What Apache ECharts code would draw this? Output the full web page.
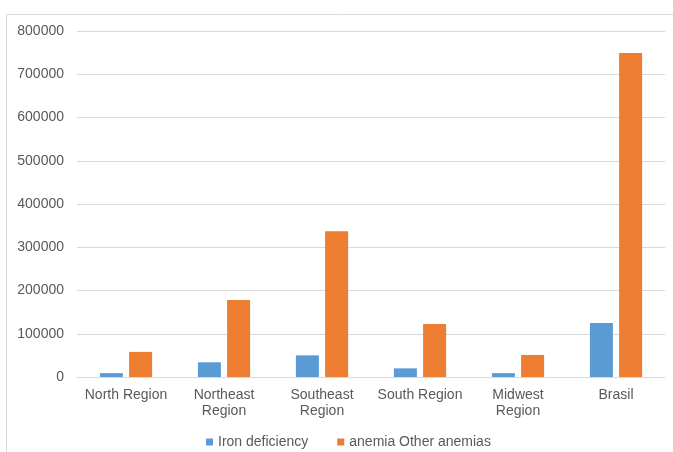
<!DOCTYPE html>
<html>
<head>
<meta charset="utf-8">
<script src="https://cdn.jsdelivr.net/npm/echarts@6/dist/echarts.min.js"></script>
<style>
  html, body { margin: 0; padding: 0; background: #fff; }
  #chart { width: 673px; height: 452px; }
</style>
</head>
<body>
<div id="chart"></div>
<script>
// Regions of Brazil and the national total
const categories = ['North Region', 'Northeast\nRegion', 'Southeast\nRegion', 'South Region', 'Midwest\nRegion', 'Brasil'];
const ironDeficiency = [9000, 34000, 50000, 20000, 9000, 125000];
const otherAnemias = [58000, 178000, 337000, 122500, 51000, 749000];
const seriesNames = ['Iron deficiency', 'anemia Other anemias'];

const chart = echarts.init(document.getElementById('chart'));
const textColor = '#595959';
const font = 'Liberation Sans, Arial, sans-serif';
const fontSize = 14;

chart.setOption({
  animation: false,
  graphic: [{
    type: 'rect',
    shape: { x: 6.5, y: 14.5, width: 700, height: 500 },
    style: { fill: 'none', stroke: '#d9d9d9', lineWidth: 1 },
    silent: true
  }],
  grid: { left: 77, right: 8, top: 31, bottom: 75, containLabel: false },
  legend: {
    left: 201,
    top: 430,
    itemWidth: 7,
    itemHeight: 7,
    itemGap: 29,
    icon: 'rect',
    textStyle: { color: textColor, fontSize: fontSize, fontFamily: font }
  },
  xAxis: {
    type: 'category',
    data: categories,
    axisTick: { show: false },
    axisLine: { lineStyle: { color: '#d9d9d9' } },
    axisLabel: { color: textColor, fontSize: fontSize, fontFamily: font, margin: 10, lineHeight: 16, interval: 0 }
  },
  yAxis: {
    type: 'value',
    min: 0,
    max: 800000,
    interval: 100000,
    axisLine: { show: false },
    axisTick: { show: false },
    splitLine: { lineStyle: { color: '#d9d9d9' } },
    axisLabel: {
      color: textColor, fontSize: fontSize, fontFamily: font, margin: 13,
      formatter: v => String(v)
    }
  },
  series: [
    {
      name: seriesNames[0],
      type: 'bar',
      data: ironDeficiency,
      barWidth: 23,
      barGap: '27%',
      itemStyle: { color: '#5B9BD5' }
    },
    {
      name: seriesNames[1],
      type: 'bar',
      data: otherAnemias,
      barWidth: 23,
      itemStyle: { color: '#ED7D31' }
    }
  ]
});
</script>
</body>
</html>
